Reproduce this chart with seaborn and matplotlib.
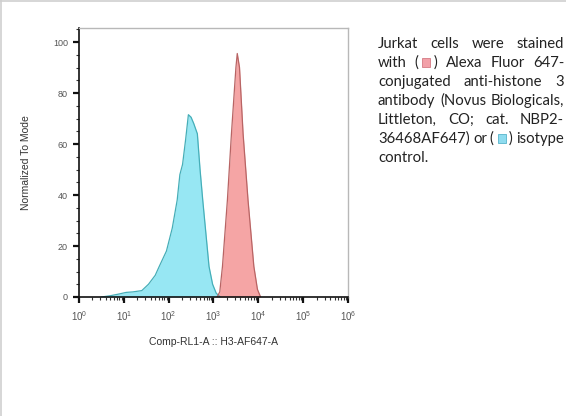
import matplotlib
matplotlib.use('Agg')
import matplotlib.pyplot as plt
import numpy as np
import seaborn as sns
from matplotlib.lines import Line2D
from matplotlib.patches import Rectangle
from matplotlib.ticker import LogLocator, MultipleLocator

# isotype control (cyan) – x in log10 units, y normalized to mode
iso_log = [0.5, 0.7, 0.9, 1.05, 1.2, 1.4, 1.55, 1.7, 1.79, 1.95, 2.08, 2.19, 2.25,
           2.31, 2.38, 2.44, 2.5, 2.56, 2.64, 2.7, 2.76, 2.83, 2.9, 2.98, 3.06, 3.15]
iso_y = [0, 0.5, 1.2, 1.8, 2.0, 2.5, 5, 8.5, 12, 18, 27, 38, 48,
         52, 62, 71.5, 70.5, 68, 64, 50, 38, 25, 12, 5, 1.5, 0]

# anti-histone H3 AF647 (red)
h3_log = [3.08, 3.14, 3.2, 3.31, 3.40, 3.5, 3.53, 3.58, 3.66, 3.77, 3.9, 3.98, 4.05]
h3_y = [0, 2, 12, 38, 64, 90, 95.5, 90, 64, 38, 12, 3, 0]

y_ticks = [0, 20, 40, 60, 80, 100]

caption = [
    ["Jurkat", "cells", "were", "stained"],
    ["with", "[R]", "Alexa", "Fluor", "647-"],
    ["conjugated", "anti-histone", "3"],
    ["antibody", "(Novus", "Biologicals,"],
    ["Littleton,", "CO;", "cat.", "NBP2-"],
    ["36468AF647)", "or", "[C]", "isotype"],
    ["control."],
]

W, H = 566, 416
sns.set_theme(style='ticks')
plt.rcParams['font.family'] = ['Liberation Sans', 'DejaVu Sans']

fig = plt.figure(figsize=(W / 100, H / 100), dpi=100)
ax = fig.add_axes([79 / W, 1 - 297 / H, (348 - 79) / W, (297 - 28) / H])

iso_x = 10 ** np.array(iso_log)
h3_x = 10 ** np.array(h3_log)

ax.fill_between(iso_x, iso_y, color='#97e7f3', lw=0)
sns.lineplot(x=iso_x, y=iso_y, ax=ax, color='#45aeb8', lw=0.9, sort=False)
ax.fill_between(h3_x, h3_y, color='#f5a5a5', lw=0)
sns.lineplot(x=h3_x, y=h3_y, ax=ax, color='#b86464', lw=0.9, sort=False)

ax.set_xscale('log')
ax.set_xlim(1, 1e6)
ax.set_ylim(0, 105.5)
ax.set_yticks(y_ticks)
ax.yaxis.set_minor_locator(MultipleLocator(5))
ax.xaxis.set_major_locator(LogLocator(base=10, numticks=10))
ax.xaxis.set_minor_locator(LogLocator(base=10, subs=np.arange(2, 10), numticks=20))

for side in ['top', 'right']:
    ax.spines[side].set_color('#b8b8b8')
    ax.spines[side].set_linewidth(1.0)
for side in ['left', 'bottom']:
    ax.spines[side].set_color('#111111')
    ax.spines[side].set_linewidth(1.2)

ax.tick_params(axis='both', which='major', direction='out', length=4, width=1.6,
               labelsize=6.5, labelcolor='#555555', color='#111111', pad=4)
ax.tick_params(axis='both', which='minor', direction='out', length=2.5, width=0.8,
               color='#333333')
ax.tick_params(axis='x', which='major', pad=5, labelsize=7)

ax.set_xlabel('Comp-RL1-A :: H3-AF647-A', fontsize=7.5, color='#333333', labelpad=10)
ax.set_ylabel('Normalized To Mode', fontsize=7.5, color='#333333', labelpad=16)

# thin grey border on the image's top and left edge
fig.add_artist(Line2D([0, 1], [1 - 1 / H, 1 - 1 / H], transform=fig.transFigure,
                      color='#cfcfcf', lw=1.2))
fig.add_artist(Line2D([1 / W, 1 / W], [0, 1], transform=fig.transFigure,
                      color='#cfcfcf', lw=1.2))

# justified caption on the right
fig.canvas.draw()
renderer = fig.canvas.get_renderer()
x_left, x_right = 378, 564
line_y = [44, 63, 82, 101, 120, 139, 158]
square_fill = {'[R]': ('#f2a0a8', '#d57a84'), '[C]': ('#8fdcef', '#58b4cc')}
cap_family = ['Lato', 'DejaVu Sans']

# size the font so the widest line just fills the column
probe = fig.text(0, 0, ' '.join(caption[3]), fontsize=10, family=cap_family)
cap_size = 10 * (x_right - x_left - 2) / probe.get_window_extent(renderer).width
probe.remove()
font = dict(fontsize=cap_size, color='#222222', family=cap_family)

for words, yy in zip(caption, line_y):
    items = []
    for w in words:
        label = '(    )' if w in square_fill else w
        t = fig.text(0, 1 - yy / H, label, va='center', ha='left', **font)
        width = t.get_window_extent(renderer).width
        items.append((w, t, width))
    total = sum(it[2] for it in items)
    if len(items) > 1:
        gap = (x_right - x_left - total) / (len(items) - 1)
    else:
        gap = 3
    x = x_left
    for w, t, width in items:
        t.set_x(x / W)
        if w in square_fill:
            fc, ec = square_fill[w]
            cx = x + width / 2
            fig.add_artist(Rectangle(((cx - 4) / W, 1 - (yy + 3.5) / H), 8 / W, 8 / H,
                                     transform=fig.transFigure, facecolor=fc,
                                     edgecolor=ec, lw=0.6))
        x += width + gap

fig.savefig('out.png', dpi=100)
